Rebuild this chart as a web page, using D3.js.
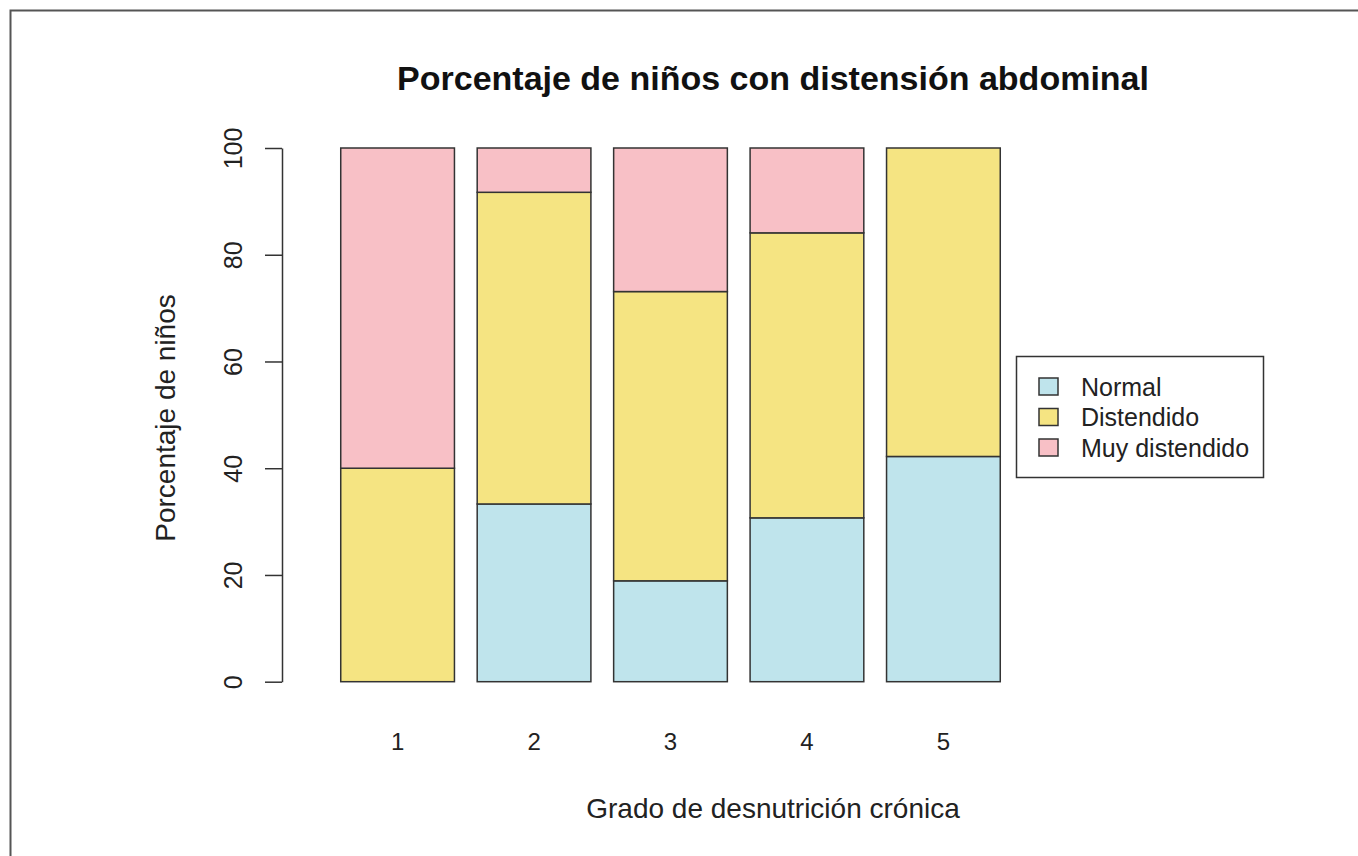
<!DOCTYPE html>
<html>
<head>
<meta charset="utf-8">
<script src="https://cdn.jsdelivr.net/npm/d3@7"></script>
<style>
  body { margin: 0; background: #fff; }
  svg text { font-family: "Liberation Sans", Arial, Helvetica, sans-serif; fill: #222; }
  .axis path, .axis line { stroke: #333; stroke-width: 1.5; }
  .bar { stroke: #333; stroke-width: 1.5; }
</style>
</head>
<body>
<svg width="1358" height="856"></svg>
<script>
// categories (grado de desnutrición crónica)
const grados = ['1', '2', '3', '4', '5'];
// series, in % of children per grade
const normal      = [0,  33.3, 18.9, 30.7, 42.2];
const distendido  = [40, 58.4, 54.2, 53.4, 57.8];
const muyDist     = [60,  8.3, 26.9, 15.9, 0];
const yTicks = [0, 20, 40, 60, 80, 100];

const seriesNames = ['Normal', 'Distendido', 'Muy distendido'];
const colors = ['#bfe4ec', '#f5e482', '#f8c0c6'];

const svg = d3.select('svg');

// outer frame
svg.append('rect')
    .attr('x', 10.5).attr('y', 10.5)
    .attr('width', 1400).attr('height', 900)
    .attr('fill', 'none')
    .attr('stroke', '#555')
    .attr('stroke-width', 2);

const xScale = d3.scaleBand()
    .domain(grados)
    .range([318, 1023])
    .paddingInner(0.2 / 1.2)
    .paddingOuter(0.2 / 1.2);

const yScale = d3.scaleLinear()
    .domain([0, 100])
    .range([681.7, 148]);

// build rows for the stack
const table = grados.map((g, i) => ({
    grado: g,
    'Normal': normal[i],
    'Distendido': distendido[i],
    'Muy distendido': muyDist[i]
}));

const stacked = d3.stack().keys(seriesNames)(table);

const layers = svg.append('g')
    .selectAll('g')
    .data(stacked)
    .enter()
    .append('g')
    .attr('fill', (d, i) => colors[i]);

layers.selectAll('rect')
    .data(d => d.filter(s => s[1] - s[0] > 0))
    .enter()
    .append('rect')
    .attr('class', 'bar')
    .attr('x', d => xScale(d.data.grado))
    .attr('y', d => yScale(d[1]))
    .attr('width', xScale.bandwidth())
    .attr('height', d => yScale(d[0]) - yScale(d[1]));

// y axis, R style (rotated labels)
const yAxis = svg.append('g')
    .attr('class', 'axis')
    .attr('transform', 'translate(282, 0)')
    .call(d3.axisLeft(yScale)
        .tickValues(yTicks)
        .tickSize(17)
        .tickSizeOuter(0));

yAxis.select('.domain').attr('fill', 'none');
yAxis.selectAll('text')
    .attr('font-size', 25)
    .attr('text-anchor', 'middle')
    .attr('transform', 'rotate(-90)')
    .attr('x', 0)
    .attr('y', -40)
    .attr('dy', 0);

// x labels (no axis line)
const xAxis = svg.append('g')
    .attr('class', 'axis')
    .attr('transform', 'translate(0, 742)')
    .call(d3.axisBottom(xScale).tickSize(0).tickPadding(0));
xAxis.select('.domain').remove();
xAxis.selectAll('text')
    .attr('font-size', 24)
    .attr('y', 0)
    .attr('dy', '0.35em');

// title
svg.append('text')
    .attr('x', 773)
    .attr('y', 90)
    .attr('text-anchor', 'middle')
    .attr('font-size', 34)
    .attr('font-weight', 'bold')
    .style('fill', '#111')
    .text('Porcentaje de niños con distensión abdominal');

// axis titles
svg.append('text')
    .attr('x', 773)
    .attr('y', 818)
    .attr('text-anchor', 'middle')
    .attr('font-size', 28)
    .text('Grado de desnutrición crónica');

svg.append('text')
    .attr('transform', 'translate(175, 418) rotate(-90)')
    .attr('text-anchor', 'middle')
    .attr('font-size', 28)
    .text('Porcentaje de niños');

// legend
const legend = svg.append('g');
legend.append('rect')
    .attr('x', 1016.5).attr('y', 356.5)
    .attr('width', 247).attr('height', 121)
    .attr('fill', '#fff')
    .attr('stroke', '#333')
    .attr('stroke-width', 1.5);

const items = legend.selectAll('.item')
    .data(seriesNames)
    .enter()
    .append('g')
    .attr('transform', (d, i) => `translate(0, ${387 + i * 30.5})`);

items.append('rect')
    .attr('x', 1039).attr('y', -9)
    .attr('width', 19).attr('height', 17)
    .attr('fill', (d, i) => colors[i])
    .attr('stroke', '#333')
    .attr('stroke-width', 1.5);

items.append('text')
    .attr('x', 1081)
    .attr('y', 0)
    .attr('dy', '0.35em')
    .attr('font-size', 25)
    .text(d => d);
</script>
</body>
</html>
